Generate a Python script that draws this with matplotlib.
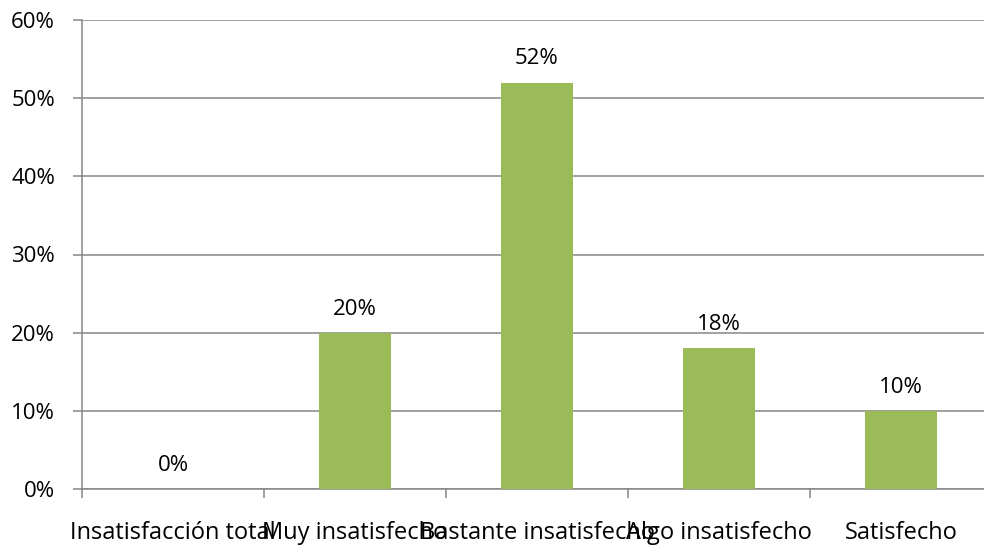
import matplotlib.pyplot as plt
import numpy as np

categories = ["Insatisfacción total", "Muy insatisfecho", "Bastante insatisfecho",
              "Algo insatisfecho", "Satisfecho"]
values = [0, 20, 52, 18, 10]
yticks = [0, 10, 20, 30, 40, 50, 60]

plt.rcParams['font.family'] = ['Open Sans', 'DejaVu Sans']
fs = 16

fig = plt.figure(figsize=(9.84, 5.48), dpi=100)
ax = fig.add_axes([82 / 984, 59 / 548, 910 / 984, 469 / 548])

x = np.arange(len(categories))
ax.bar(x, values, width=0.4, color='#9BBB59', zorder=3)

for xi, v in zip(x, values):
    ax.annotate(f"{v}%", (xi, v), xytext=(0, 13), textcoords='offset points',
                ha='center', va='baseline', fontsize=fs)

ax.set_xlim(-0.5, len(categories) - 0.5)
ax.set_ylim(0, 60)
ax.set_yticks(yticks)
ax.set_yticklabels([f"{t}%" for t in yticks], fontsize=fs)
ax.yaxis.grid(True, color='#868686', linewidth=1.1, zorder=0)

ax.set_xticks(np.arange(-0.5, len(categories), 1.0))
ax.set_xticklabels([])
ax.set_xticks(x, minor=True)
ax.set_xticklabels(categories, minor=True, fontsize=17)
ax.tick_params(axis='x', which='minor', length=0, pad=23)
ax.tick_params(axis='x', which='major', length=6.5, color='#868686', width=1.1)
ax.tick_params(axis='y', length=6.5, color='#868686', width=1.1, pad=13)

for s in ['top', 'right']:
    ax.spines[s].set_visible(False)
for s in ['left', 'bottom']:
    ax.spines[s].set_color('#868686')
    ax.spines[s].set_linewidth(1.1)

fig.savefig('out.png', dpi=100)
